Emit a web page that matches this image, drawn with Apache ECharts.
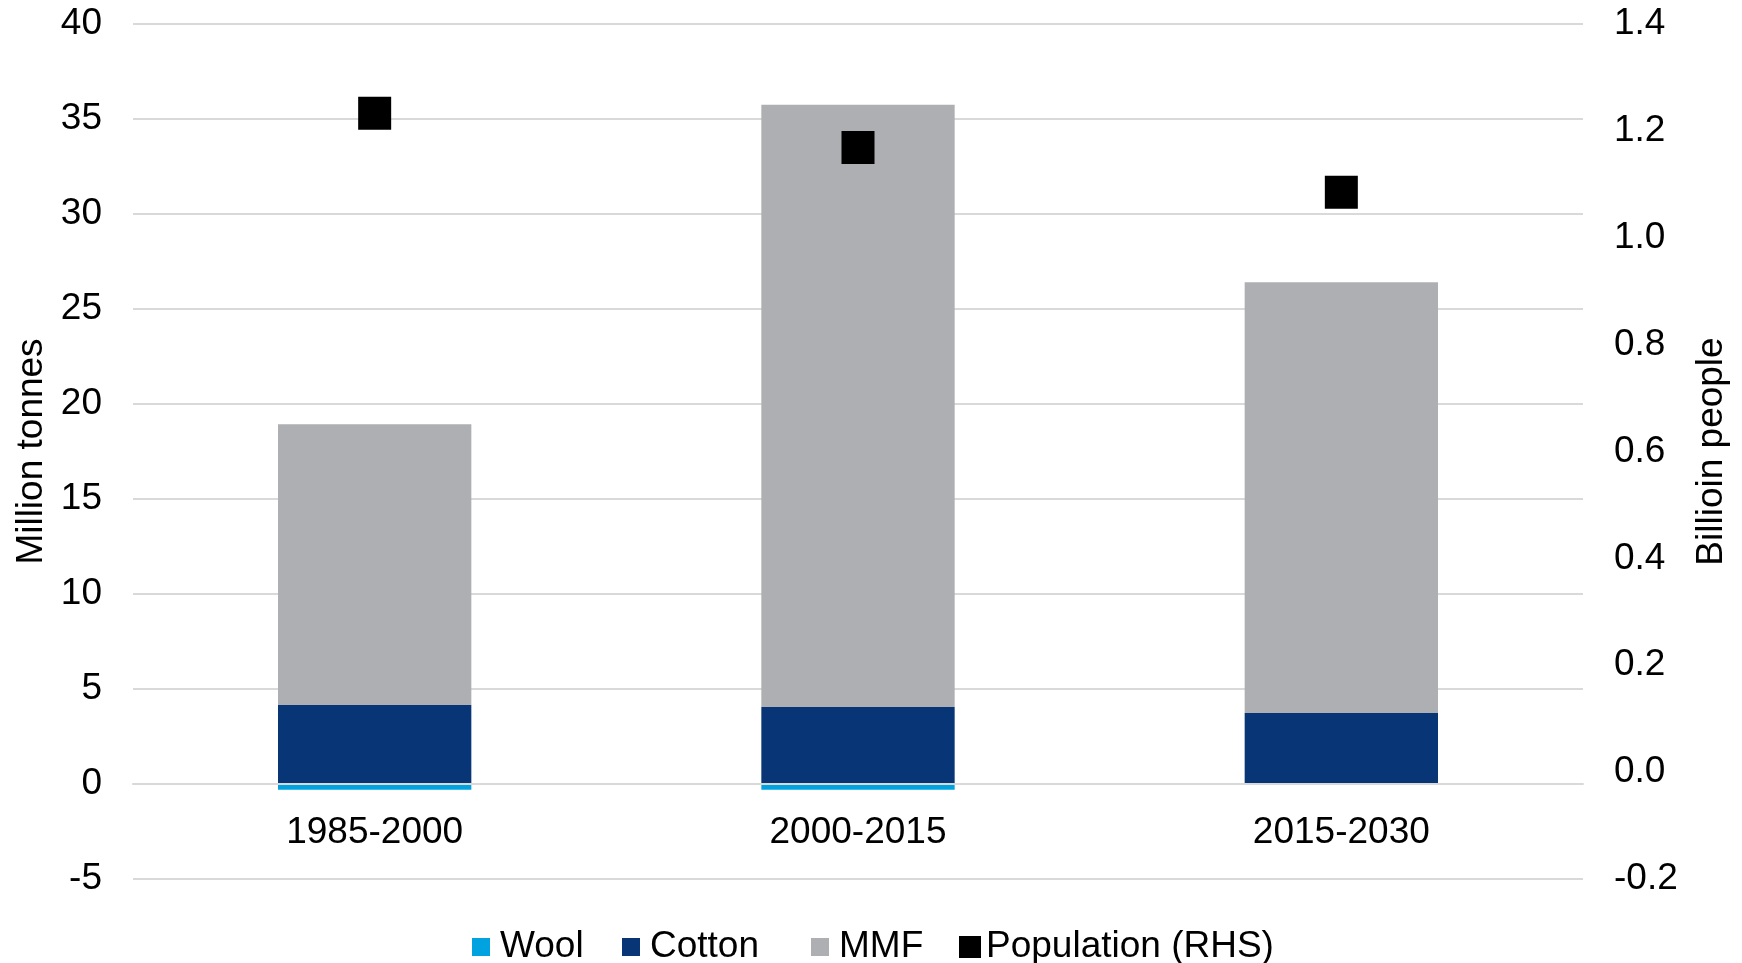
<!DOCTYPE html>
<html>
<head>
<meta charset="utf-8">
<script src="https://cdn.jsdelivr.net/npm/echarts@6/dist/echarts.min.js"></script>
<style>
  html, body { margin: 0; padding: 0; background: #fff; }
  #chart { width: 1742px; height: 963px; }
</style>
</head>
<body>
<div id="chart"></div>
<script>
// Periods on the category axis
const periods = ['1985-2000', '2000-2015', '2015-2030'];

// Fibre demand growth, million tonnes (left axis)
const wool = [-0.3, -0.3, 0];
const cotton = [4.16, 4.05, 3.74];
const mmf = [14.77, 31.7, 22.67];

// Population growth, billion people (right axis)
const population = [1.233, 1.169, 1.085];

// Axis ranges
const leftAxis = { min: -5, max: 40, interval: 5 };
const rightAxis = { min: -0.2, max: 1.4, interval: 0.2 };

const FONT = '"Liberation Sans", Arial, sans-serif';
const FS = 37;
const gridColor = '#d9d9d9';

const GRID_TOP = 24;
const GRID_BOTTOM = 84;
const CHART_H = 963;

// Category axis sits on the zero line of the left axis
const plotH = CHART_H - GRID_TOP - GRID_BOTTOM;
const zeroOffset = -plotH * (0 - leftAxis.min) / (leftAxis.max - leftAxis.min);

const colors = {
  Wool: '#00a3e0',
  Cotton: '#073575',
  MMF: '#aeafb3',
  'Population (RHS)': '#000000'
};

function legendFor(name, left, size, gap) {
  return {
    data: [{ name: name, icon: 'rect' }],
    left: left,
    top: 922,
    itemWidth: size,
    itemHeight: size,
    itemGap: 0,
    selectedMode: false,
    textStyle: { fontFamily: FONT, fontSize: FS, color: '#000', lineHeight: 40, padding: [0, 0, 0, gap] }
  };
}

const chart = echarts.init(document.getElementById('chart'), null, { renderer: 'canvas' });

chart.setOption({
  animation: false,
  backgroundColor: '#ffffff',
  grid: { left: 133, right: 159, top: GRID_TOP, bottom: GRID_BOTTOM, containLabel: false, outerBoundsMode: 'none' },
  legend: [
    legendFor('Wool', 467, 18, 5),
    legendFor('Cotton', 617, 18, 5),
    legendFor('MMF', 806, 18, 5),
    legendFor('Population (RHS)', 954, 22, 0)
  ],
  xAxis: {
    type: 'category',
    data: periods,
    z: 5,
    offset: zeroOffset,
    axisLine: { show: true, onZero: false, lineStyle: { color: gridColor, width: 2 } },
    axisTick: { show: false },
    axisLabel: { fontFamily: FONT, fontSize: FS, color: '#000', margin: 30 },
    splitLine: { show: false }
  },
  yAxis: [
    {
      type: 'value',
      min: leftAxis.min, max: leftAxis.max, interval: leftAxis.interval,
      name: 'Million tonnes',
      nameLocation: 'middle',
      nameRotate: 90,
      nameGap: 83,
      nameTextStyle: { fontFamily: FONT, fontSize: FS, color: '#000' },
      axisLine: { show: false },
      axisTick: { show: false },
      axisLabel: { fontFamily: FONT, fontSize: FS, color: '#000', margin: 31 },
      splitLine: { show: true, lineStyle: { color: gridColor, width: 2 } }
    },
    {
      type: 'value',
      position: 'right',
      min: rightAxis.min, max: rightAxis.max, interval: rightAxis.interval,
      name: 'Billioin people',
      nameLocation: 'middle',
      nameRotate: 90,
      nameGap: 110,
      nameTextStyle: { fontFamily: FONT, fontSize: FS, color: '#000' },
      axisLine: { show: false },
      axisTick: { show: false },
      axisLabel: { fontFamily: FONT, fontSize: FS, color: '#000', margin: 31,
        formatter: v => v.toFixed(1) },
      splitLine: { show: false }
    }
  ],
  series: [
    {
      name: 'Wool', type: 'bar', stack: 'fibre', data: wool,
      barWidth: '40%', itemStyle: { color: colors.Wool }
    },
    {
      name: 'Cotton', type: 'bar', stack: 'fibre', data: cotton,
      barWidth: '40%', itemStyle: { color: colors.Cotton }
    },
    {
      name: 'MMF', type: 'bar', stack: 'fibre', data: mmf,
      barWidth: '40%', itemStyle: { color: colors.MMF }
    },
    {
      name: 'Population (RHS)', type: 'scatter', yAxisIndex: 1, data: population,
      symbol: 'rect', symbolSize: 33, z: 10,
      itemStyle: { color: colors['Population (RHS)'], opacity: 1 }
    }
  ]
});
</script>
</body>
</html>
